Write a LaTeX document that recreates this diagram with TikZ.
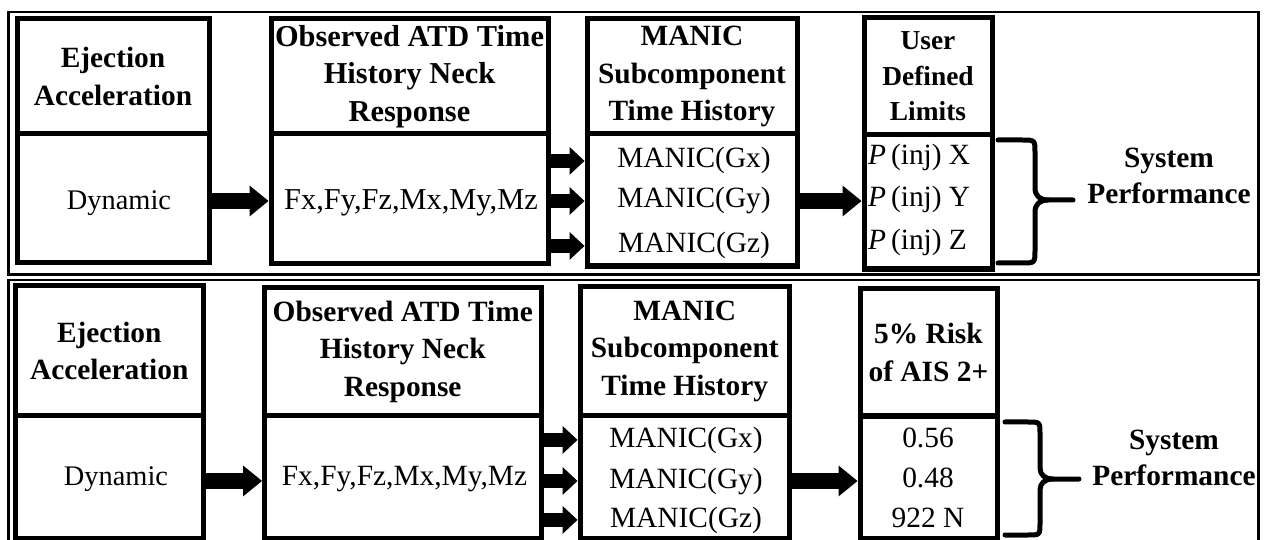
\documentclass[tikz,border=0pt]{standalone}
\usepackage{fontspec}
\setmainfont{Liberation Serif}
\usetikzlibrary{arrows.meta}
\begin{document}
\begin{tikzpicture}[x=1bp,y=-1bp,
  box/.style={draw,line width=5bp,inner sep=0pt,outer sep=0pt,anchor=north west,
    font=\bfseries\fontsize{29.5}{37.5}\selectfont,align=center},
  txt/.style={inner sep=0pt,anchor=base,font=\fontsize{29.5}{36}\selectfont},
  sys/.style={inner sep=0pt,font=\bfseries\fontsize{29.5}{36}\selectfont,align=center},
  frame/.style={draw,line width=2.5bp},
  bigarrow/.style={line width=16bp,-{Triangle[length=19bp,width=31bp,line width=0pt]},shorten >=2.5bp},
  smallarrow/.style={line width=14bp,-{Triangle[length=15bp,width=28bp,line width=0pt]},shorten >=2.5bp},
  brace/.style={line width=5bp,line cap=round,line join=round}
]
\useasboundingbox (0,0) rectangle (1265,540);
\fill[white] (0,0) rectangle (1265,540);
\clip (0,0) rectangle (1265,540);

% panel frames
\draw[frame] (8.5,12) rectangle (1258.5,274.5);
\draw[frame] (8.5,280) rectangle (1258.5,548);

% ---------------- top panel ----------------
\node[txt,font=\fontsize{28.5}{32}\selectfont] (t1d) at (119,210) {Dynamic};
\node[txt,font=\fontsize{30.5}{36}\selectfont] (t2d) at (411,210) {Fx,Fy,Fz,Mx,My,Mz};
\node[txt] (t3x) at (694,168) {MANIC(Gx)};
\node[txt] (t3y) at (694,208) {MANIC(Gy)};
\node[txt] (t3z) at (694,253) {MANIC(Gz)};
\node[txt,anchor=base west] (t4x) at (868,165) {\textit{P}\,(inj) X};
\node[txt,anchor=base west] (t4y) at (868,207) {\textit{P}\,(inj) Y};
\node[txt,anchor=base west] (t4z) at (868,250) {\textit{P}\,(inj) Z};
\node[sys] (t5) at (1169,176) {System\\Performance};

\node[box,minimum width=192bp,minimum height=129bp] (t1b) at (17,134) {};
\node[box,minimum width=277bp,minimum height=130bp] (t2b) at (271,134) {};
\node[box,minimum width=210bp,minimum height=132bp] (t3b) at (587,134) {};
\node[box,minimum width=128bp,minimum height=134.5bp] (t4b) at (864,134.5) {};

\draw[bigarrow] (t1b.east |- t3y) -- (t2b.west |- t3y);
\draw[smallarrow] (t2b.east |- t3x) -- (t3b.west |- t3x);
\draw[smallarrow] (t2b.east |- t3y) -- (t3b.west |- t3y);
\draw[smallarrow] (t2b.east |- t3z) -- (t3b.west |- t3z);
\draw[bigarrow] (t3b.east |- t3y) -- (t4b.west |- t3y);

\node[box,minimum width=192bp,minimum height=115bp] (t1h) at (17,19) {Ejection\\Acceleration};
\node[box,minimum width=277bp,minimum height=115bp,font=\bfseries\fontsize{30.5}{37.5}\selectfont] (t2h) at (271,19) {Observed ATD Time\\History Neck\\Response};
\node[box,minimum width=210bp,minimum height=115bp] (t3h) at (587,19) {MANIC\\Subcomponent\\Time History};
\node[box,minimum width=128bp,minimum height=116.5bp,font=\bfseries\fontsize{27.5}{36}\selectfont] (t4h) at (864,18) {User\\Defined\\Limits};

\draw[brace] (998,140) -- (1022,140) .. controls (1035,140) .. (1035,153) -- (1035,188)
  .. controls (1035,196) and (1040,200) .. (1048,200) -- (1073,200);
\draw[brace] (998,263) -- (1022,263) .. controls (1035,263) .. (1035,250) -- (1035,212)
  .. controls (1035,204) and (1040,200) .. (1048,200);

% ---------------- bottom panel ----------------
\node[txt,font=\fontsize{28.5}{32}\selectfont] (b1d) at (116,485) {Dynamic};
\node[txt] (b2d) at (404.5,485) {Fx,Fy,Fz,Mx,My,Mz};
\node[txt] (b3x) at (686,447) {MANIC(Gx)};
\node[txt] (b3y) at (686,488) {MANIC(Gy)};
\node[txt] (b3z) at (686,527) {MANIC(Gz)};
\node[txt] (b4x) at (928,447) {0.56};
\node[txt] (b4y) at (928,487) {0.48};
\node[txt] (b4z) at (928,527) {922 N};
\node[sys] (b5) at (1174,458) {System\\Performance};

\node[box,minimum width=188.5bp,minimum height=122.5bp] (b1b) at (15,415.5) {};
\node[box,minimum width=276.5bp,minimum height=122.5bp] (b2b) at (264.5,415.5) {};
\node[box,minimum width=209.5bp,minimum height=122.5bp] (b3b) at (580,415.5) {};
\node[box,minimum width=137bp,minimum height=122bp] (b4b) at (860,416) {};

\draw[bigarrow] (b1b.east |- b3y) -- (b2b.west |- b3y);
\draw[smallarrow] (b2b.east |- b3x) -- (b3b.west |- b3x);
\draw[smallarrow] (b2b.east |- b3y) -- (b3b.west |- b3y);
\draw[smallarrow] (b2b.east |- b3z) -- (b3b.west |- b3z);
\draw[bigarrow] (b3b.east |- b3y) -- (b4b.west |- b3y);

\node[box,minimum width=188.5bp,minimum height=129.5bp] (b1h) at (15,286) {Ejection\\Acceleration};
\node[box,minimum width=276.5bp,minimum height=127.5bp] (b2h) at (264.5,288) {Observed ATD Time\\History Neck\\Response};
\node[box,minimum width=209.5bp,minimum height=128.5bp] (b3h) at (580,287) {MANIC\\Subcomponent\\Time History};
\node[box,minimum width=137bp,minimum height=127bp] (b4h) at (860,289) {5\% Risk\\of AIS 2+};

\draw[brace] (1005,422) -- (1028,422) .. controls (1040,422) .. (1040,434) -- (1040,468)
  .. controls (1040,475) and (1045,479) .. (1053,479) -- (1079,479);
\draw[brace] (1005,535) -- (1028,535) .. controls (1040,535) .. (1040,523) -- (1040,490)
  .. controls (1040,483) and (1045,479) .. (1053,479);
\end{tikzpicture}
\end{document}
